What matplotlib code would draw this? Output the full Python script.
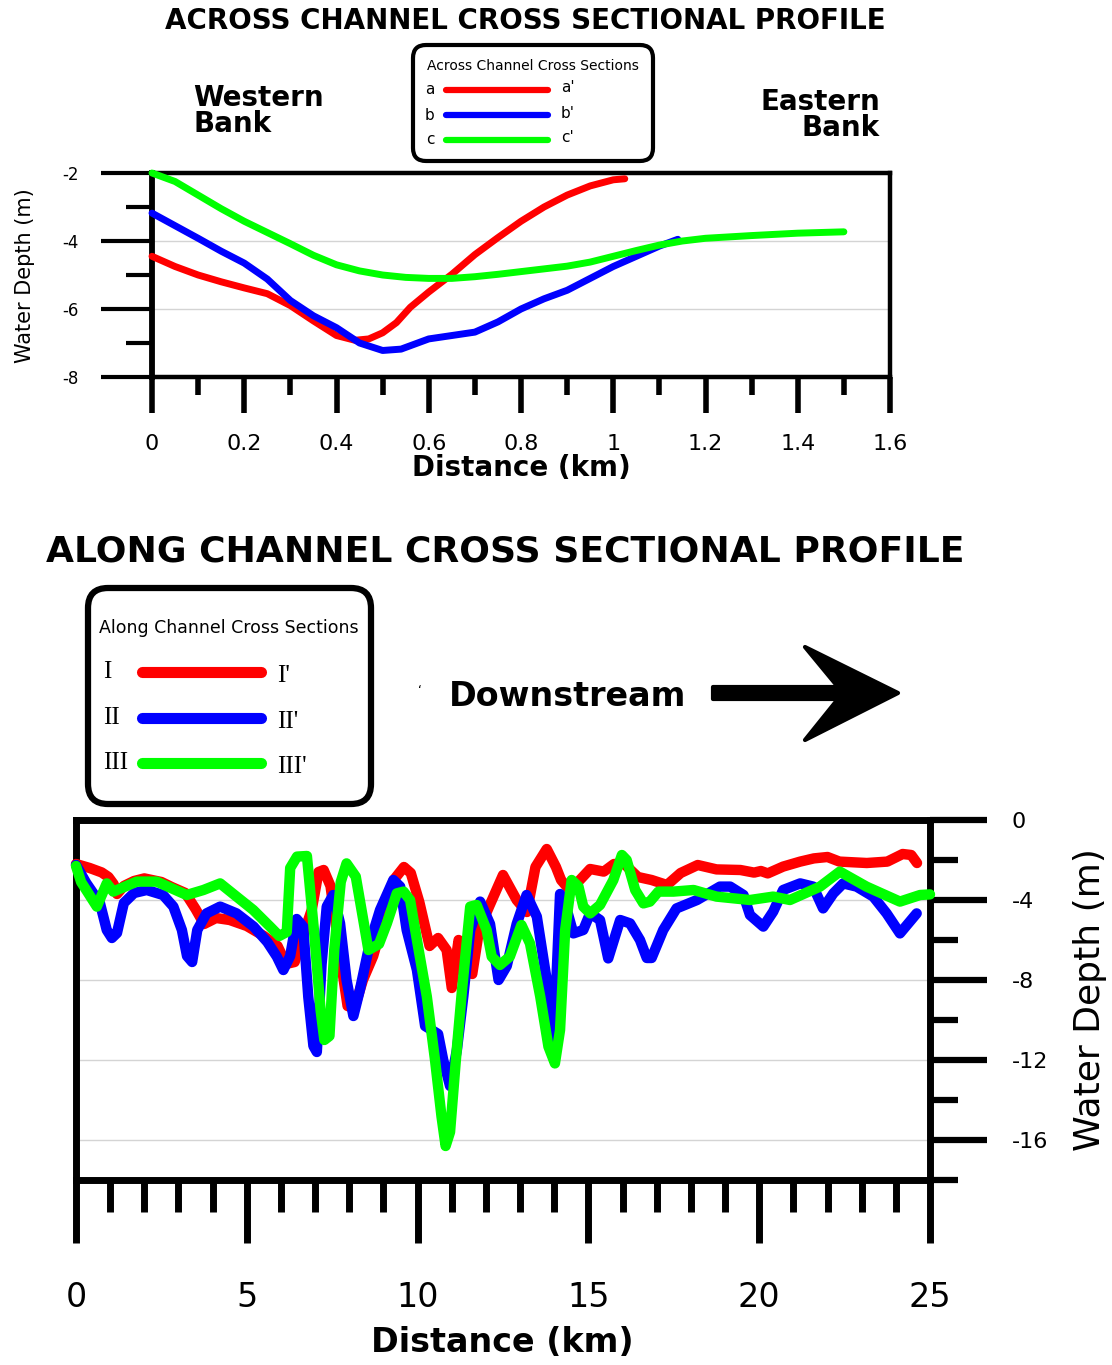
import matplotlib
matplotlib.use("Agg")
import matplotlib.pyplot as plt
from matplotlib.patches import FancyBboxPatch, Polygon
from matplotlib.lines import Line2D
from matplotlib.ticker import MultipleLocator, FormatStrFormatter

plt.rcParams['axes.unicode_minus'] = False

W, H = 1112, 1365
DPI = 100

SERIF = ['Liberation Serif', 'DejaVu Serif']

# across-channel sections: distance (km) and water depth (m)
a_km = [0, 0.05, 0.1, 0.15, 0.2, 0.25, 0.3, 0.35, 0.4, 0.44, 0.47, 0.5, 0.53,
        0.56, 0.6, 0.65, 0.7, 0.75, 0.8, 0.85, 0.9, 0.95, 1.0, 1.025]
a_depth = [-4.45, -4.75, -5.0, -5.2, -5.38, -5.55, -5.9, -6.35, -6.78, -6.92,
           -6.88, -6.7, -6.4, -5.95, -5.5, -4.98, -4.4, -3.9, -3.42, -3.0,
           -2.65, -2.38, -2.2, -2.17]

b_km = [0, 0.05, 0.1, 0.15, 0.2, 0.25, 0.3, 0.35, 0.4, 0.45, 0.5, 0.54, 0.6,
        0.65, 0.7, 0.75, 0.8, 0.85, 0.9, 0.95, 1.0, 1.05, 1.1, 1.14]
b_depth = [-3.18, -3.55, -3.92, -4.3, -4.65, -5.12, -5.75, -6.2, -6.55, -7.0,
           -7.22, -7.18, -6.88, -6.78, -6.68, -6.38, -6.0, -5.7, -5.45, -5.1,
           -4.75, -4.45, -4.15, -3.95]

c_km = [0, 0.05, 0.1, 0.15, 0.2, 0.25, 0.3, 0.35, 0.4, 0.45, 0.5, 0.55, 0.6,
        0.65, 0.7, 0.75, 0.8, 0.85, 0.9, 0.95, 1.0, 1.05, 1.1, 1.15, 1.2, 1.3,
        1.4, 1.5]
c_depth = [-2.0, -2.25, -2.65, -3.05, -3.42, -3.75, -4.08, -4.42, -4.7, -4.88,
           -5.0, -5.07, -5.1, -5.1, -5.05, -4.98, -4.9, -4.82, -4.74, -4.62,
           -4.45, -4.28, -4.12, -4.0, -3.92, -3.84, -3.77, -3.73]

# along-channel sections
i_km = [0, 0.4, 0.75, 0.95, 1.1, 1.2, 1.4, 1.7, 2.0, 2.5, 2.8, 3.2, 3.5, 3.75,
        4.1, 4.5, 5.0, 5.5, 5.9, 6.15, 6.4, 6.6, 6.9, 7.1, 7.25, 7.45, 7.75,
        7.95, 8.15, 8.4, 8.7, 9.0, 9.3, 9.6, 9.8, 10.05, 10.35, 10.6, 10.85,
        11.0, 11.2, 11.4, 11.6, 11.8, 12.1, 12.5, 12.9, 13.2, 13.45, 13.78,
        14.05, 14.2, 14.45, 14.75, 15.05, 15.45, 15.75, 16.05, 16.45, 16.85,
        17.3, 17.7, 18.2, 18.75, 19.45, 19.85, 20.05, 20.25, 20.7, 21.2, 21.6,
        22.0, 22.35, 23.15, 23.75, 24.2, 24.45, 24.62]
i_depth = [-2.2, -2.4, -2.62, -2.85, -3.2, -3.7, -3.3, -3.05, -2.92, -3.1,
           -3.35, -3.65, -4.45, -5.2, -4.9, -5.0, -5.3, -5.8, -6.3, -7.2, -7.1,
           -6.0, -4.5, -2.6, -2.5, -3.3, -7.0, -9.3, -9.4, -8.0, -6.8, -5.0,
           -3.0, -2.35, -2.65, -4.1, -6.3, -5.9, -6.5, -8.4, -6.0, -7.0, -7.7,
           -5.5, -4.3, -2.75, -4.0, -4.6, -2.35, -1.45, -2.35, -3.0, -3.5, -3.0,
           -2.45, -2.58, -2.2, -2.2, -2.85, -3.0, -3.25, -2.65, -2.25, -2.47,
           -2.5, -2.63, -2.55, -2.67, -2.33, -2.08, -1.92, -1.85, -2.08, -2.15,
           -2.08, -1.7, -1.75, -2.15]

ii_km = [0, 0.3, 0.7, 0.9, 1.05, 1.2, 1.4, 1.7, 2.07, 2.55, 2.85, 3.1, 3.25,
         3.4, 3.55, 3.82, 4.22, 4.7, 5.2, 5.6, 5.88, 6.07, 6.27, 6.46, 6.65,
         6.8, 6.95, 7.05, 7.19, 7.34, 7.53, 7.73, 7.92, 8.12, 8.31, 8.6, 8.9,
         9.29, 9.49, 9.68, 9.98, 10.22, 10.6, 10.75, 10.95, 11.15, 11.34,
         11.54, 11.83, 12.12, 12.37, 12.61, 12.9, 13.19, 13.49, 13.78, 13.98,
         14.17, 14.37, 14.56, 14.85, 15.05, 15.34, 15.58, 15.93, 16.22, 16.51,
         16.71, 16.85, 17.19, 17.58, 18.18, 18.85, 19.15, 19.54, 19.73, 20.12,
         20.41, 20.7, 21.2, 21.58, 21.87, 22.17, 22.46, 22.85, 23.34, 23.73,
         24.12, 24.61]
ii_depth = [-2.25, -3.15, -4.15, -5.5, -5.9, -5.65, -4.15, -3.65, -3.5, -3.75,
            -4.33, -5.5, -6.8, -7.1, -5.5, -4.67, -4.33, -4.67, -5.33, -6.1,
            -6.83, -7.5, -6.8, -4.95, -5.33, -8.85, -11.3, -11.6, -7.2, -4.33,
            -3.75, -5.17, -8.0, -9.8, -8.5, -6.17, -4.5, -3.0, -3.33, -5.5,
            -7.5, -10.3, -10.7, -12.0, -13.3, -11.5, -8.8, -5.5, -4.08, -5.2,
            -8.0, -7.3, -5.2, -3.75, -4.83, -8.0, -11.3, -3.7, -4.5, -5.67,
            -5.5, -4.67, -5.0, -6.92, -5.0, -5.17, -6.0, -6.9, -6.9, -5.5,
            -4.42, -4.0, -3.33, -3.33, -3.75, -4.75, -5.33, -4.58, -3.5, -3.17,
            -3.33, -4.42, -3.67, -3.17, -3.33, -3.83, -4.67, -5.67, -4.67]

iii_km = [0, 0.15, 0.61, 0.9, 1.09, 1.78, 2.36, 3.24, 3.73, 4.22, 4.7, 5.19,
          5.68, 5.95, 6.17, 6.27, 6.47, 6.76, 6.97, 7.16, 7.27, 7.42, 7.56,
          7.75, 7.92, 8.19, 8.41, 8.56, 8.87, 9.1, 9.39, 9.59, 9.78, 9.98,
          10.27, 10.51, 10.7, 10.82, 10.95, 11.12, 11.3, 11.54, 11.73, 12.02,
          12.17, 12.41, 12.7, 13.04, 13.29, 13.59, 13.83, 14.02, 14.17, 14.32,
          14.51, 14.71, 14.85, 15.05, 15.34, 15.73, 15.98, 16.12, 16.37, 16.61,
          16.8, 17.05, 17.49, 18.08, 18.75, 19.73, 20.41, 20.9, 21.78, 22.36,
          23.14, 24.12, 24.71, 25.0]
iii_depth = [-2.3, -3.1, -4.33, -3.17, -3.58, -3.08, -3.08, -3.75, -3.5, -3.17,
             -3.83, -4.5, -5.33, -5.8, -5.6, -2.4, -1.83, -1.8, -5.6, -9.5,
             -11.0, -10.8, -6.5, -3.1, -2.17, -2.83, -5.0, -6.5, -6.2, -5.17,
             -3.67, -3.58, -4.0, -6.0, -8.83, -12.0, -14.83, -16.3, -15.6,
             -12.0, -8.5, -4.33, -4.25, -5.5, -6.83, -7.25, -6.83, -5.25, -6.17,
             -8.83, -11.33, -12.17, -10.5, -5.5, -3.0, -3.33, -4.33, -4.67,
             -4.25, -3.0, -1.75, -2.0, -3.5, -4.17, -4.08, -3.58, -3.58, -3.5,
             -3.83, -4.0, -3.83, -4.0, -3.33, -2.58, -3.33, -4.08, -3.75, -3.72]

across_labels = [('a', "a'"), ('b', "b'"), ('c', "c'")]
along_labels = [('I', "I'"), ('II', "II'"), ('III', "III'")]
colors = ['#ff0000', '#0000ff', '#00ff00']


def fx(x):
    return x / W


def fy(y):
    return 1 - y / H


def inch(x, y):
    # pixel position from the top-left corner -> inches from bottom-left
    return x / DPI, (H - y) / DPI


fig = plt.figure(figsize=(W / DPI, H / DPI), dpi=DPI)

# ---------------- across channel profile ----------------
ax1 = fig.add_axes([fx(152), fy(377), (890 - 152) / W, (377 - 173) / H])
for x, y, c in [(a_km, a_depth, colors[0]), (b_km, b_depth, colors[1]),
                (c_km, c_depth, colors[2])]:
    ax1.plot(x, y, color=c, lw=5, solid_capstyle='round',
             solid_joinstyle='round', clip_on=False, zorder=3)
ax1.set_xlim(0, 1.6)
ax1.set_ylim(-8, -2)
ax1.xaxis.set_major_locator(MultipleLocator(0.2))
ax1.xaxis.set_minor_locator(MultipleLocator(0.1))
ax1.yaxis.set_major_locator(MultipleLocator(2))
ax1.yaxis.set_minor_locator(MultipleLocator(1))
ax1.xaxis.set_major_formatter(FormatStrFormatter('%g'))
ax1.yaxis.set_major_formatter(FormatStrFormatter('%g'))
ax1.grid(axis='y', which='major', color='#d4d4d4', lw=1)
ax1.set_axisbelow(True)
for s in ax1.spines.values():
    s.set_linewidth(3.2)
ax1.spines['left'].set_linewidth(4.2)
ax1.tick_params(axis='y', which='major', length=37, width=3, pad=16,
                labelsize=12)
ax1.tick_params(axis='y', which='minor', length=19, width=3)
ax1.tick_params(axis='x', which='major', length=26, width=4, pad=15,
                labelsize=16)
ax1.tick_params(axis='x', which='minor', length=13, width=4)

fig.text(fx(525), fy(21), 'ACROSS CHANNEL CROSS SECTIONAL PROFILE',
         ha='center', va='center', fontsize=20, fontweight='bold')
fig.text(fx(193), fy(111), 'Western\nBank', ha='left', va='center',
         fontsize=20, fontweight='bold', linespacing=0.95)
fig.text(fx(880), fy(115), 'Eastern\nBank', ha='right', va='center',
         multialignment='right', fontsize=20, fontweight='bold',
         linespacing=0.95)
fig.text(fx(521), fy(468), 'Distance (km)', ha='center', va='center',
         fontsize=20, fontweight='bold')
fig.text(fx(25), fy(276), 'Water Depth (m)', ha='center', va='center',
         rotation=90, fontsize=15)

# legend of the across-channel sections
box = FancyBboxPatch(inch(413, 161), (653 - 413) / DPI, (161 - 45) / DPI,
                     boxstyle='round,pad=0,rounding_size=0.13',
                     transform=fig.dpi_scale_trans, facecolor='white',
                     edgecolor='black', lw=3)
fig.add_artist(box)
fig.text(fx(533), fy(66), 'Across Channel Cross Sections', ha='center',
         va='center', fontsize=10)
for k, (lo, hi) in enumerate(across_labels):
    yy = 90 + k * 25
    fig.text(fx(430), fy(yy), lo, ha='center', va='center', fontsize=11)
    fig.text(fx(561), fy(yy - 2), hi, ha='left', va='center', fontsize=11)
    fig.add_artist(Line2D([446 / DPI, 548 / DPI], [(H - yy) / DPI] * 2,
                          transform=fig.dpi_scale_trans, color=colors[k],
                          lw=4.5, solid_capstyle='round'))

# ---------------- along channel profile ----------------
ax2 = fig.add_axes([fx(76), fy(1180), (930 - 76) / W, 360 / H])
for x, y, c in [(i_km, i_depth, colors[0]), (ii_km, ii_depth, colors[1]),
                (iii_km, iii_depth, colors[2])]:
    ax2.plot(x, y, color=c, lw=7.5, solid_capstyle='round',
             solid_joinstyle='round', clip_on=False, zorder=3)
ax2.set_xlim(0, 25)
ax2.set_ylim(-18, 0)
ax2.xaxis.set_major_locator(MultipleLocator(5))
ax2.xaxis.set_minor_locator(MultipleLocator(1))
ax2.yaxis.set_major_locator(MultipleLocator(4))
ax2.yaxis.set_minor_locator(MultipleLocator(2))
ax2.yaxis.set_major_formatter(FormatStrFormatter('%g'))
ax2.yaxis.tick_right()
ax2.grid(axis='y', which='major', color='#d4d4d4', lw=1)
ax2.set_axisbelow(True)
for s in ax2.spines.values():
    s.set_linewidth(5)
ax2.tick_params(axis='y', which='major', length=41, width=4.5, pad=18,
                labelsize=16)
ax2.tick_params(axis='y', which='minor', length=20, width=4.5)
ax2.tick_params(axis='x', which='major', length=45, width=5, pad=28,
                labelsize=24)
ax2.tick_params(axis='x', which='minor', length=23, width=5)

fig.text(fx(505), fy(551), 'ALONG CHANNEL CROSS SECTIONAL PROFILE',
         ha='center', va='center', fontsize=26, fontweight='bold')
fig.text(fx(502), fy(1342), 'Distance (km)', ha='center', va='center',
         fontsize=24, fontweight='bold')
fig.text(fx(1090), fy(1000), 'Water Depth (m)', ha='center', va='center',
         rotation=90, fontsize=26)

# legend of the along-channel sections
box2 = FancyBboxPatch(inch(88, 804), (371 - 88) / DPI, (804 - 588) / DPI,
                      boxstyle='round,pad=0,rounding_size=0.2',
                      transform=fig.dpi_scale_trans, facecolor='white',
                      edgecolor='black', lw=4.5)
fig.add_artist(box2)
fig.text(fx(229), fy(628), 'Along Channel Cross Sections', ha='center',
         va='center', fontsize=12.5)
for k, (lo, hi) in enumerate(along_labels):
    yy = 672 + k * 45.5
    fig.text(fx(103), fy(yy), lo, ha='left', va='center', fontsize=18,
             family=SERIF)
    fig.text(fx(277), fy(yy + 4), hi, ha='left', va='center', fontsize=18,
             family=SERIF)
    fig.add_artist(Line2D([142 / DPI, 261 / DPI], [(H - yy) / DPI] * 2,
                          transform=fig.dpi_scale_trans, color=colors[k],
                          lw=8, solid_capstyle='round'))

# downstream arrow
fig.text(fx(420), fy(690), '\u2018', ha='center', va='center', fontsize=9)
fig.text(fx(449), fy(696), 'Downstream', ha='left', va='center',
         fontsize=24, fontweight='bold')
arrow_px = [(713, 687), (838, 687), (805, 647), (898, 693), (805, 740),
            (838, 699), (713, 699)]
fig.add_artist(Polygon([inch(x, y) for x, y in arrow_px], closed=True,
                       transform=fig.dpi_scale_trans, facecolor='black',
                       edgecolor='black', lw=3, joinstyle='round'))

fig.savefig('out.png', dpi=DPI)
